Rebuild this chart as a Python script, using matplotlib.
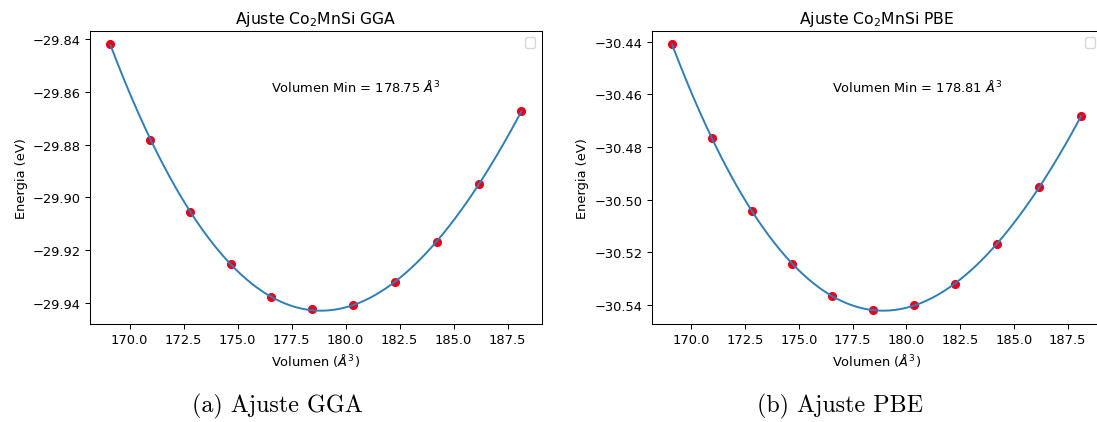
"""
Ajuste E(V) para Co2MnSi: GGA y PBE
"""
import matplotlib
matplotlib.use('Agg')
import matplotlib.pyplot as plt
import numpy as np

DPI = 93.6
plt.rcParams['font.size'] = 10
plt.rcParams['mathtext.fontset'] = 'dejavusans'

# Volumen de la celda (A^3)
volumen = [169.11, 170.95, 172.81, 174.68, 176.56, 178.45,
           180.36, 182.28, 184.22, 186.17, 188.13]

# Energia total (eV)
energia_gga = [-29.8421, -29.8783, -29.9055, -29.9253, -29.9375, -29.9423,
               -29.9406, -29.9321, -29.9168, -29.8950, -29.8675]
energia_pbe = [-30.4409, -30.4767, -30.5043, -30.5246, -30.5366, -30.5419,
               -30.5401, -30.5322, -30.5168, -30.4953, -30.4681]

titulos = ['Ajuste Co$_2$MnSi GGA', 'Ajuste Co$_2$MnSi PBE']
textos_min = ['Volumen Min = 178.75 $Å^3$', 'Volumen Min = 178.81 $Å^3$']
captions = ['(a) Ajuste GGA', '(b) Ajuste PBE']

fig = plt.figure(figsize=(1097 / DPI, 423 / DPI), dpi=DPI)
ax1 = fig.add_axes([0.0820, 0.2317, 0.4118, 0.6927])
ax2 = fig.add_axes([0.5941, 0.2317, 0.4102, 0.6927])

for ax, energia, titulo, texto in zip([ax1, ax2], [energia_gga, energia_pbe],
                                      titulos, textos_min):
    # ajuste polinomico de la curva E(V)
    coef = np.polyfit(volumen, energia, 3)
    v_fit = np.linspace(min(volumen), max(volumen), 300)
    ax.scatter(volumen, energia, color='#e8001c', s=36)
    ax.plot(v_fit, np.polyval(coef, v_fit), color='#2f7fb5', linewidth=1.5)
    ax.text(0.40, 0.795, texto, transform=ax.transAxes)
    ax.set_title(titulo)
    ax.set_xlabel('Volumen ($Å^3$)')
    ax.set_ylabel('Energia (eV)')
    ax.set_xticks([170.0, 172.5, 175.0, 177.5, 180.0, 182.5, 185.0, 187.5])
    ax.legend(handles=[], loc='upper right')

# pies de figura del documento
fig.text(0.253, 0.024, captions[0], fontsize=18.5, family='cmr10',
         ha='center', va='baseline')
fig.text(0.766, 0.024, captions[1], fontsize=18.5, family='cmr10',
         ha='center', va='baseline')

fig.savefig('out.png', dpi=DPI)
print('Saved: out.png')
